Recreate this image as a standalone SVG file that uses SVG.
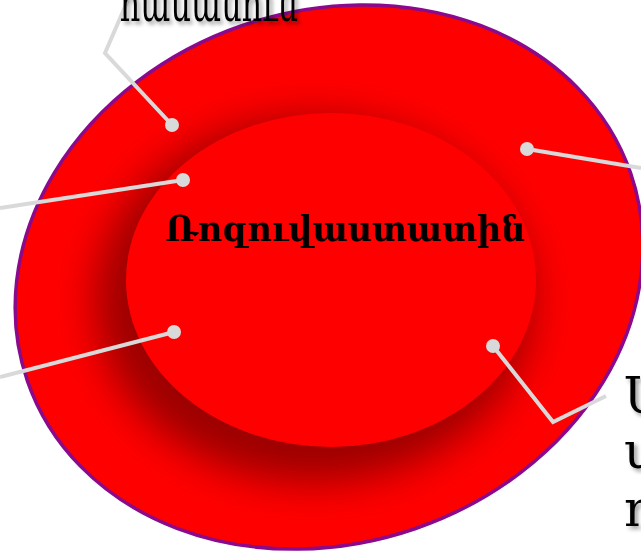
<svg xmlns="http://www.w3.org/2000/svg" width="641" height="551" viewBox="0 0 641 551">
<style>
.lbl{font-family:"DejaVu Serif","Noto Serif","Liberation Serif",serif;font-size:50px;fill:#000;}
.ctr{font-family:"DejaVu Serif","Noto Serif","Liberation Serif",serif;font-size:36px;font-weight:bold;fill:#000;}
.ld{fill:none;stroke:#d9d9d9;stroke-width:4;stroke-linejoin:miter;}
.dot{fill:#d9d9d9;}
</style>
<defs>
<filter id="blur" x="-50%" y="-50%" width="200%" height="200%"><feGaussianBlur stdDeviation="20"/></filter>
<filter id="tsh" x="-10%" y="-30%" width="130%" height="160%">
<feGaussianBlur in="SourceAlpha" stdDeviation="2"/><feOffset dx="3" dy="3" result="o"/>
<feComponentTransfer in="o" result="s"><feFuncA type="linear" slope="0.4"/></feComponentTransfer>
<feMerge><feMergeNode in="s"/><feMergeNode in="SourceGraphic"/></feMerge>
</filter>
<clipPath id="outerClip"><ellipse cx="329" cy="277" rx="319" ry="266" transform="rotate(-19 329 277)"/></clipPath>
</defs>
<g id="outer">
<ellipse cx="329" cy="277" rx="319" ry="266" transform="rotate(-19 329 277)" fill="#ff0000" stroke="#8b0a8b" stroke-width="3.5"/>
</g>
<g id="inner">
<g clip-path="url(#outerClip)">
<ellipse cx="314" cy="300" rx="218" ry="182" fill="#8a0000" opacity="0.85" filter="url(#blur)"/>
</g>
<ellipse cx="331" cy="280" rx="205" ry="167" fill="#ff0000"/>
<text class="ctr" x="345" y="241" text-anchor="middle" textLength="360" lengthAdjust="spacingAndGlyphs">Ռոզուվաստատին</text>
</g>
<g id="connectors">
<polyline class="ld" points="172,125 105,53 128,0"/>
<circle class="dot" cx="172" cy="125" r="7"/>
<polyline class="ld" points="183,180 0,208"/>
<circle class="dot" cx="183" cy="180" r="7"/>
<polyline class="ld" points="174,332 0,377"/>
<circle class="dot" cx="174" cy="332" r="7"/>
<polyline class="ld" points="527,149 641,168"/>
<circle class="dot" cx="527" cy="149" r="7"/>
<polyline class="ld" points="493,346 553,422 606,396"/>
<circle class="dot" cx="493" cy="346" r="7"/>
</g>
<g id="label-top" filter="url(#tsh)">
<text class="lbl" x="120" y="21" textLength="178" lengthAdjust="spacingAndGlyphs">համանուն</text>
</g>
<g id="label-bottom-right" filter="url(#tsh)">
<text class="lbl" x="624" y="413">Ս</text>
<text class="lbl" x="624" y="468">ս</text>
<text class="lbl" x="624" y="526">դ</text>
</g>
</svg>
